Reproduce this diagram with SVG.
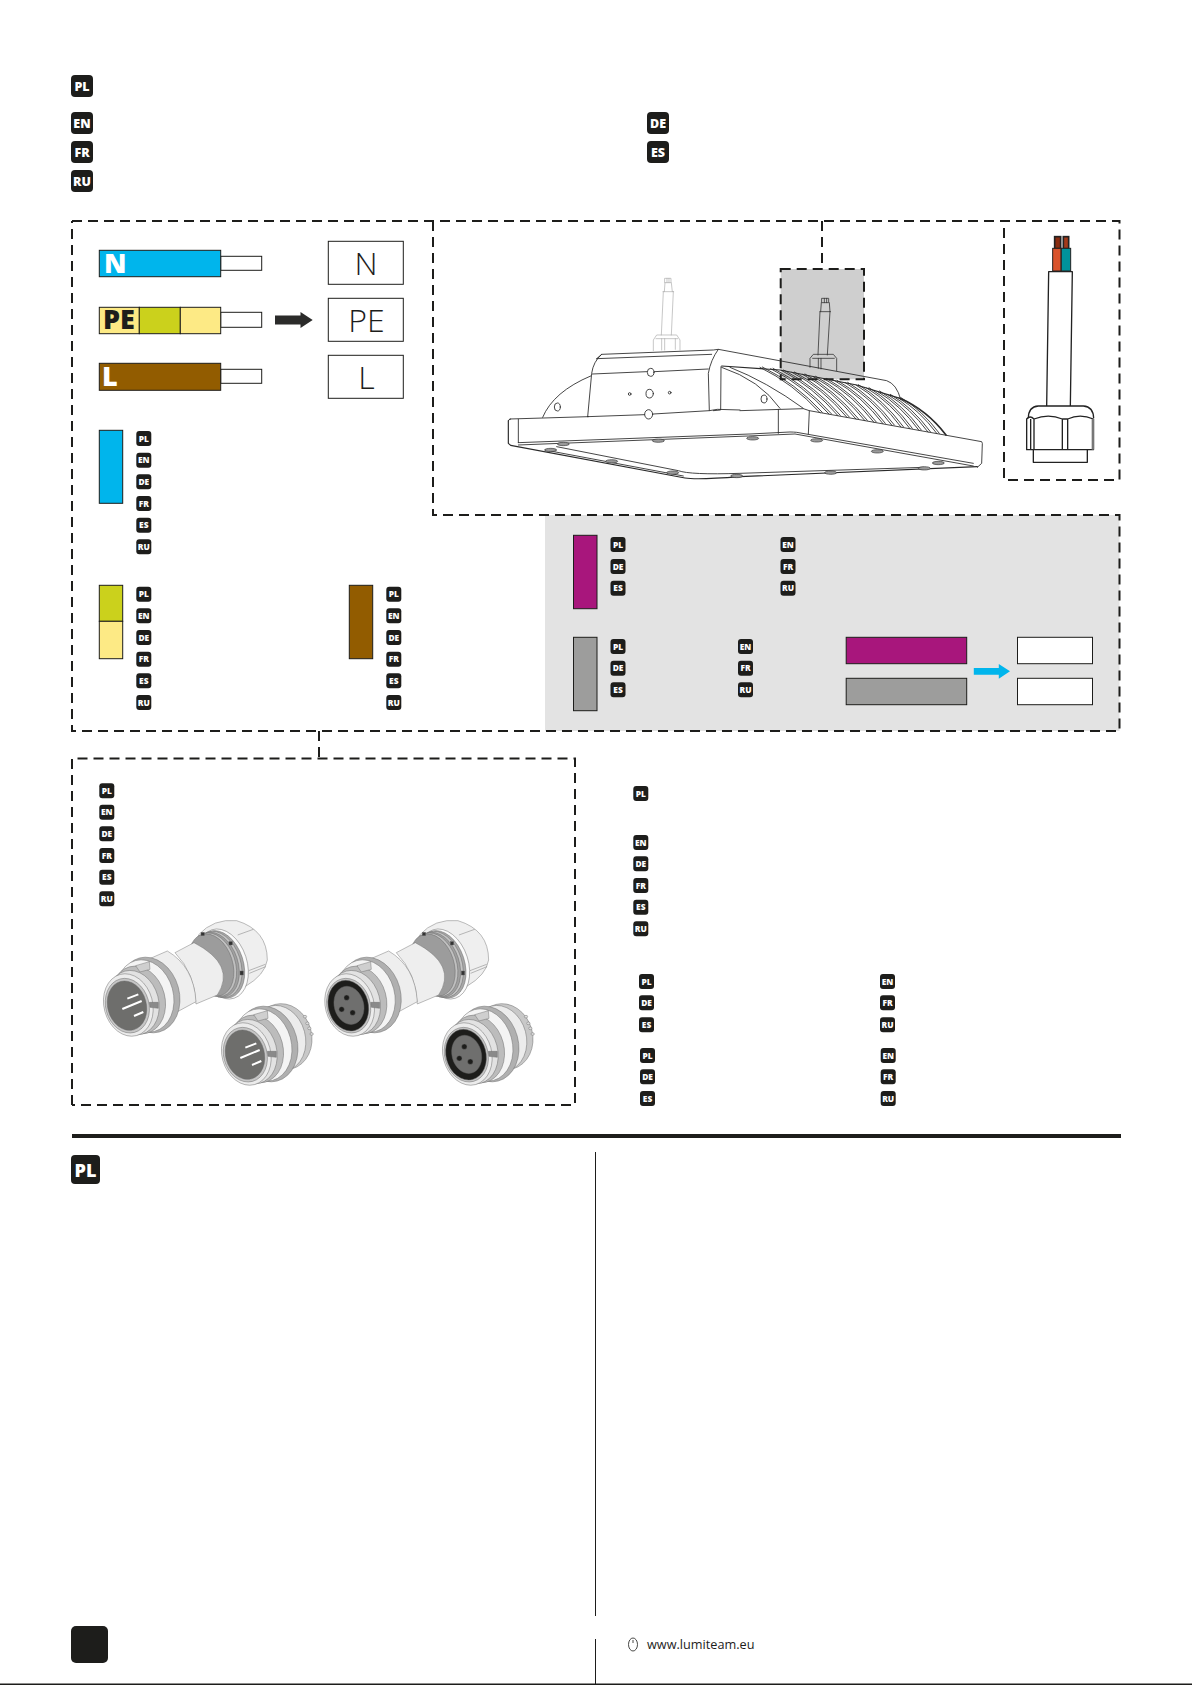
<svg xmlns="http://www.w3.org/2000/svg" xmlns:xlink="http://www.w3.org/1999/xlink" width="1192" height="1685" viewBox="0 0 1192 1685">
<style>
text{font-family:"Open Sans","Liberation Sans",sans-serif}
.bd rect{fill:#1d1d1b}
.bd text{fill:#fff;font-weight:800;text-anchor:middle}
.l text{font-size:12.500px}
.s text{font-size:8.400px}
.frame{fill:none;stroke:#1d1d1b;stroke-width:2;stroke-dasharray:10 6}
.sw{stroke:#1d1d1b;stroke-width:1}
.wl{stroke:#1d1d1b;stroke-width:1;fill:#fff}
.bl{font-size:27px;font-weight:800}
.tl{font-size:32px;font-weight:300;fill:#1d1d1b;text-anchor:middle}
.lamp{fill:none;stroke:#2a2a2a;stroke-width:2.600;stroke-linejoin:round;stroke-linecap:round}
.scr{fill:#9a9a9a;stroke:#333;stroke-width:2}
.cn *{stroke:#666;stroke-width:1.300}
.cab{fill:none;stroke:#222;stroke-width:4;stroke-linejoin:round}
</style>
<defs>
<g id="head">
<ellipse cx="178" cy="255" rx="90" ry="115" transform="rotate(-15 178 255)" fill="#b0b0b0"/>
<ellipse cx="165" cy="258" rx="85" ry="110" transform="rotate(-15 165 258)" fill="#f4f4f4"/>
<ellipse cx="145" cy="270" rx="80" ry="103" transform="rotate(-15 145 270)" fill="#bcbcbc"/>
<ellipse cx="130" cy="278" rx="76" ry="98" transform="rotate(-15 130 278)" fill="#e2e2e2"/>
<ellipse cx="115" cy="285" rx="73" ry="95" transform="rotate(-15 115 285)" fill="#ececec"/>
<ellipse cx="112" cy="287" rx="65" ry="83" transform="rotate(-15 112 287)" fill="#c6c6c6"/>
<path d="M137,167 L178,155 L180,178 L150,186 Z" fill="#cfcfcf"/>
<path d="M178,277 L205,277 L205,295 L180,292 Z" fill="#8a8a8a"/>
</g>
<g id="male">
<ellipse cx="111" cy="287" rx="58" ry="75" transform="rotate(-15 111 287)" fill="#6e6e6c"/>
<path d="M112,266 L145,253 M97,297 L155,273 M132,318 L160,306" style="stroke:#fff;stroke-width:6" fill="none"/>
</g>
<g id="female">
<ellipse cx="111" cy="287" rx="60" ry="77" transform="rotate(-15 111 287)" fill="#1d1d1b"/>
<ellipse cx="113" cy="286" rx="44" ry="58" transform="rotate(-15 113 286)" fill="#6f6f6e"/>
<circle cx="106" cy="263" r="8" fill="#1d1d1b"/>
<circle cx="91" cy="298" r="8" fill="#1d1d1b"/>
<circle cx="124" cy="308" r="8" fill="#1d1d1b"/>
</g>
<g id="tube">
<path d="M325,75 Q370,25 440,32 Q532,60 532,150 Q525,195 465,230 L420,262 L385,262 Z" fill="#efefef"/>
<path d="M443,75 L490,58 M478,190 L527,170 M476,182 L526,163" fill="none"/>
<ellipse cx="399" cy="162" rx="72" ry="108" transform="rotate(-18 399 162)" fill="#fbfbfb"/>
<ellipse cx="392" cy="163" rx="68" ry="104" transform="rotate(-18 392 163)" fill="#a8a8a8"/>
<ellipse cx="385" cy="163" rx="67" ry="102" transform="rotate(-18 385 163)" fill="#c4c4c4"/>
<ellipse cx="378" cy="164" rx="66" ry="100" transform="rotate(-18 378 164)" fill="#a0a0a0"/>
<ellipse cx="371" cy="164" rx="65" ry="98" transform="rotate(-18 371 164)" fill="#c0c0c0"/>
<ellipse cx="364" cy="165" rx="64" ry="96" transform="rotate(-18 364 165)" fill="#9c9c9c"/>
<rect x="333" y="67" width="10" height="10" fill="#333"/>
<rect x="417" y="95" width="10" height="10" fill="#333"/>
<rect x="450" y="183" width="10" height="12" fill="#333"/>
<path d="M255,128 L312,98 Q440,165 382,255 L318,282 Q315,190 255,128 Z" fill="#eeeeee"/>
<path d="M170,150 L232,123 Q312,170 318,275 L250,312 Z" fill="#eeeeee"/>
</g>
<g id="back">
<ellipse cx="226" cy="233" rx="85" ry="100" transform="rotate(-15 226 233)" fill="#c8c8c8"/>
<ellipse cx="212" cy="238" rx="80" ry="100" transform="rotate(-15 212 238)" fill="#ececec"/>
<ellipse cx="291" cy="173" rx="5" ry="4" fill="#ddd"/>
<ellipse cx="298" cy="193" rx="5" ry="4" fill="#ddd"/>
<ellipse cx="304" cy="208" rx="5" ry="4" fill="#ddd"/>
<ellipse cx="311" cy="225" rx="5" ry="4" fill="#ddd"/>
</g>
<g id="rib"><path d="M60,322 Q159,370 240,458 M92,326 Q188,374 267,462 M124,331 Q218,379 294,467 M156,337 Q247,384 321,472 M188,343 Q276,390 348,477 M220,350 Q305,396 375,482 M252,356 Q335,402 402,487 M284,362 Q364,407 429,491 M316,368 Q393,413 456,496 M348,375 Q422,419 483,501 M380,384 Q452,427 510,506 M412,394 Q481,435 537,511 M444,404 Q510,443 564,516 M476,414 Q539,451 591,521"/></g>
</defs>

<rect width="1192" height="1685" fill="#fff"/>
<rect id="grayPanel" x="545" y="515" width="574.500" height="216" fill="#e3e3e3"/>

<g id="connectors">
<path class="frame" d="M72,221 H1119.500 V480 H1004 V221 M433,221 V515 H1119.500 V731 H72 V221"/>
<path class="frame" d="M822,221 V269"/>
<path class="frame" d="M319,731 V758.500"/>
<path class="frame" d="M72,1105 V758.500 H575 V1105 H72"/>
<path d="M275,315.500 H300.500 V312 L312.700,320 L300.500,328 V324.500 H275 Z" fill="#2b2b2a"/>
<path d="M973.800,668 H998.800 V664 L1010,671.300 L998.800,678.700 V674.700 H973.800 Z" fill="#00b5ec"/>
</g>

<g id="lang-top" class="bd l">
<g id="lt1" transform="translate(71,75)"><rect width="22" height="22" rx="4"/><text x="11" y="15.500">PL</text></g>
<g id="lt2" transform="translate(71,112)"><rect width="22" height="22" rx="4"/><text x="11" y="15.500">EN</text></g>
<g id="lt3" transform="translate(71,141)"><rect width="22" height="22" rx="4"/><text x="11" y="15.500">FR</text></g>
<g id="lt4" transform="translate(71,170)"><rect width="22" height="22" rx="4"/><text x="11" y="15.500">RU</text></g>
<g id="lt5" transform="translate(647,112)"><rect width="22" height="22" rx="4"/><text x="11" y="15.500">DE</text></g>
<g id="lt6" transform="translate(647,141)"><rect width="22" height="22" rx="4"/><text x="11" y="15.500">ES</text></g>
</g>

<g id="wires">
<g id="wireN">
<rect class="wl" x="220.700" y="256.300" width="41" height="14"/>
<rect class="sw" x="99.300" y="250.300" width="121.400" height="26.400" fill="#00b5ec"/>
<text class="bl" x="104" y="272.700" fill="#fff">N</text>
</g>
<g id="wirePE">
<rect class="wl" x="220.700" y="312.300" width="41" height="15"/>
<rect class="sw" x="99.300" y="307.300" width="40" height="26.400" fill="#fdea85"/>
<rect class="sw" x="139.300" y="307.300" width="41" height="26.400" fill="#cbd11c"/>
<rect class="sw" x="180.300" y="307.300" width="40.400" height="26.400" fill="#fdea85"/>
<text class="bl" x="103" y="329.300" fill="#1d1d1b">PE</text>
</g>
<g id="wireL">
<rect class="wl" x="220.700" y="369.300" width="41" height="14"/>
<rect class="sw" x="99.300" y="363.300" width="121.400" height="27" fill="#925c00"/>
<text class="bl" x="102" y="386" fill="#fff">L</text>
</g>
<g id="termN"><rect class="wl" x="328.300" y="241.300" width="75" height="43"/><text class="tl" x="366" y="275">N</text></g>
<g id="termPE"><rect class="wl" x="328.300" y="298.300" width="75" height="43"/><text class="tl" x="366.500" y="332">PE</text></g>
<g id="termL"><rect class="wl" x="328.300" y="355.300" width="75" height="43"/><text class="tl" x="366.500" y="388.700">L</text></g>
</g>

<g id="swatches">
<rect class="sw" x="99.300" y="430.300" width="23.400" height="73" fill="#00b5ec"/>
<rect class="sw" x="99.300" y="585.300" width="23.400" height="36" fill="#cbd11c"/>
<rect class="sw" x="99.300" y="621.300" width="23.400" height="37.400" fill="#fdea85"/>
<rect class="sw" x="349.300" y="585.300" width="23.400" height="73.400" fill="#925c00"/>
<rect class="sw" x="573.500" y="535.300" width="23.500" height="73.400" fill="#a8167c"/>
<rect class="sw" x="573.500" y="637.300" width="23.500" height="73.400" fill="#9d9d9c"/>
<rect class="sw" x="846.200" y="637.300" width="120.500" height="26.400" fill="#a8167c"/>
<rect class="sw" x="846.200" y="678.300" width="120.500" height="26.400" fill="#9d9d9c"/>
<rect class="wl" x="1017.500" y="637.300" width="75" height="26.400"/>
<rect class="wl" x="1017.500" y="678.300" width="75" height="26.400"/>
</g>

<g id="lang-small" class="bd s">
<g transform="translate(136.300,431)"><rect width="15" height="15" rx="3"/><text x="7.500" y="10.700">PL</text></g>
<g transform="translate(136.300,452.700)"><rect width="15" height="15" rx="3"/><text x="7.500" y="10.700">EN</text></g>
<g transform="translate(136.300,474.300)"><rect width="15" height="15" rx="3"/><text x="7.500" y="10.700">DE</text></g>
<g transform="translate(136.300,496)"><rect width="15" height="15" rx="3"/><text x="7.500" y="10.700">FR</text></g>
<g transform="translate(136.300,517.700)"><rect width="15" height="15" rx="3"/><text x="7.500" y="10.700">ES</text></g>
<g transform="translate(136.300,539.300)"><rect width="15" height="15" rx="3"/><text x="7.500" y="10.700">RU</text></g>

<g transform="translate(136.300,586.700)"><rect width="15" height="15" rx="3"/><text x="7.500" y="10.700">PL</text></g>
<g transform="translate(136.300,608.300)"><rect width="15" height="15" rx="3"/><text x="7.500" y="10.700">EN</text></g>
<g transform="translate(136.300,630)"><rect width="15" height="15" rx="3"/><text x="7.500" y="10.700">DE</text></g>
<g transform="translate(136.300,651.700)"><rect width="15" height="15" rx="3"/><text x="7.500" y="10.700">FR</text></g>
<g transform="translate(136.300,673.300)"><rect width="15" height="15" rx="3"/><text x="7.500" y="10.700">ES</text></g>
<g transform="translate(136.300,695)"><rect width="15" height="15" rx="3"/><text x="7.500" y="10.700">RU</text></g>

<g transform="translate(386.300,586.700)"><rect width="15" height="15" rx="3"/><text x="7.500" y="10.700">PL</text></g>
<g transform="translate(386.300,608.300)"><rect width="15" height="15" rx="3"/><text x="7.500" y="10.700">EN</text></g>
<g transform="translate(386.300,630)"><rect width="15" height="15" rx="3"/><text x="7.500" y="10.700">DE</text></g>
<g transform="translate(386.300,651.700)"><rect width="15" height="15" rx="3"/><text x="7.500" y="10.700">FR</text></g>
<g transform="translate(386.300,673.300)"><rect width="15" height="15" rx="3"/><text x="7.500" y="10.700">ES</text></g>
<g transform="translate(386.300,695)"><rect width="15" height="15" rx="3"/><text x="7.500" y="10.700">RU</text></g>

<g transform="translate(610.500,537)"><rect width="15" height="15" rx="3"/><text x="7.500" y="10.700">PL</text></g>
<g transform="translate(610.500,559)"><rect width="15" height="15" rx="3"/><text x="7.500" y="10.700">DE</text></g>
<g transform="translate(610.500,580.700)"><rect width="15" height="15" rx="3"/><text x="7.500" y="10.700">ES</text></g>
<g transform="translate(780.500,537)"><rect width="15" height="15" rx="3"/><text x="7.500" y="10.700">EN</text></g>
<g transform="translate(780.500,559)"><rect width="15" height="15" rx="3"/><text x="7.500" y="10.700">FR</text></g>
<g transform="translate(780.500,580.700)"><rect width="15" height="15" rx="3"/><text x="7.500" y="10.700">RU</text></g>

<g transform="translate(610.500,639)"><rect width="15" height="15" rx="3"/><text x="7.500" y="10.700">PL</text></g>
<g transform="translate(610.500,660.700)"><rect width="15" height="15" rx="3"/><text x="7.500" y="10.700">DE</text></g>
<g transform="translate(610.500,682.300)"><rect width="15" height="15" rx="3"/><text x="7.500" y="10.700">ES</text></g>
<g transform="translate(738,639)"><rect width="15" height="15" rx="3"/><text x="7.500" y="10.700">EN</text></g>
<g transform="translate(738,660.700)"><rect width="15" height="15" rx="3"/><text x="7.500" y="10.700">FR</text></g>
<g transform="translate(738,682.300)"><rect width="15" height="15" rx="3"/><text x="7.500" y="10.700">RU</text></g>

<g transform="translate(99.300,783.300)"><rect width="15" height="15" rx="3"/><text x="7.500" y="10.700">PL</text></g>
<g transform="translate(99.300,804.700)"><rect width="15" height="15" rx="3"/><text x="7.500" y="10.700">EN</text></g>
<g transform="translate(99.300,826.300)"><rect width="15" height="15" rx="3"/><text x="7.500" y="10.700">DE</text></g>
<g transform="translate(99.300,848)"><rect width="15" height="15" rx="3"/><text x="7.500" y="10.700">FR</text></g>
<g transform="translate(99.300,869.700)"><rect width="15" height="15" rx="3"/><text x="7.500" y="10.700">ES</text></g>
<g transform="translate(99.300,891.300)"><rect width="15" height="15" rx="3"/><text x="7.500" y="10.700">RU</text></g>

<g transform="translate(633.300,786)"><rect width="15" height="15" rx="3"/><text x="7.500" y="10.700">PL</text></g>
<g transform="translate(633.300,835)"><rect width="15" height="15" rx="3"/><text x="7.500" y="10.700">EN</text></g>
<g transform="translate(633.300,856.300)"><rect width="15" height="15" rx="3"/><text x="7.500" y="10.700">DE</text></g>
<g transform="translate(633.300,878)"><rect width="15" height="15" rx="3"/><text x="7.500" y="10.700">FR</text></g>
<g transform="translate(633.300,899.700)"><rect width="15" height="15" rx="3"/><text x="7.500" y="10.700">ES</text></g>
<g transform="translate(633.300,921.300)"><rect width="15" height="15" rx="3"/><text x="7.500" y="10.700">RU</text></g>

<g transform="translate(639,974)"><rect width="15" height="15" rx="3"/><text x="7.500" y="10.700">PL</text></g>
<g transform="translate(639,995.300)"><rect width="15" height="15" rx="3"/><text x="7.500" y="10.700">DE</text></g>
<g transform="translate(639,1017.300)"><rect width="15" height="15" rx="3"/><text x="7.500" y="10.700">ES</text></g>
<g transform="translate(880,974)"><rect width="15" height="15" rx="3"/><text x="7.500" y="10.700">EN</text></g>
<g transform="translate(880,995.300)"><rect width="15" height="15" rx="3"/><text x="7.500" y="10.700">FR</text></g>
<g transform="translate(880,1017.300)"><rect width="15" height="15" rx="3"/><text x="7.500" y="10.700">RU</text></g>

<g transform="translate(640,1048)"><rect width="15" height="15" rx="3"/><text x="7.500" y="10.700">PL</text></g>
<g transform="translate(640,1069.300)"><rect width="15" height="15" rx="3"/><text x="7.500" y="10.700">DE</text></g>
<g transform="translate(640,1091)"><rect width="15" height="15" rx="3"/><text x="7.500" y="10.700">ES</text></g>
<g transform="translate(880.700,1048)"><rect width="15" height="15" rx="3"/><text x="7.500" y="10.700">EN</text></g>
<g transform="translate(880.700,1069.300)"><rect width="15" height="15" rx="3"/><text x="7.500" y="10.700">FR</text></g>
<g transform="translate(880.700,1091)"><rect width="15" height="15" rx="3"/><text x="7.500" y="10.700">RU</text></g>
</g>

<g id="lampBox"><rect x="780.700" y="269" width="83.300" height="110.300" fill="#cfcfcf"/>
<path class="frame" d="M780.700,269 H864 V379.300 H780.700 Z"/></g>

<g id="lamp" transform="translate(500,260) scale(0.33333)">
<g class="lamp" style="stroke:#aaa;stroke-width:2">
<path d="M495,55 H513 V68 H495 Z M501,55 V68 M507,55 V68 M495,68 L493,95 M514,68 L517,95 M489,95 H521 M490,95 L484,225 M520,95 L514,225"/>
<path d="M460,272 V240 L470,225 H530 L540,240 V270 M468,236 H533 M485,236 V270 M494,236 V270 M526,236 V268"/>
</g>
<g class="lamp" style="stroke:#333;stroke-width:2.400">
<path d="M966,115 H986 V128 H966 Z M973,115 V128 M980,115 V128 M964,128 L962,155 M988,128 L990,155 M960,155 H991 M960,155 L954,285 M990,155 L982,285"/>
<path d="M930,322 V295 L940,283 H1000 L1010,295 V332 M938,295 H1003 M955,295 V325 M963,295 V327"/>
</g>
<path class="lamp" d="M263,470 L275,340 Q280,305 305,283 L640,270 L655,268 L1160,362 Q1190,372 1202,418"/>
<path class="lamp" d="M290,296 L635,283 M305,283 L290,296 M628,452 L625,340 Q632,300 655,268"/>
<path class="lamp" d="M277,342 L440,335 M463,335 L625,327"/>
<path class="lamp" d="M263,470 L434,464 M460,462 L628,452 L652,448 L720,450 M640,452 L662,450 L663,320"/>
<path class="lamp" d="M128,472 Q160,395 272,348"/>
<ellipse class="lamp" cx="172" cy="441" rx="9" ry="12"/>
<ellipse class="lamp" cx="452" cy="337" rx="10" ry="12"/>
<ellipse class="lamp" cx="449" cy="401" rx="11" ry="13"/>
<ellipse class="lamp" cx="446" cy="463" rx="12" ry="14"/>
<circle class="lamp" cx="389" cy="402" r="4"/>
<circle class="lamp" cx="509" cy="398" r="4"/>
<g transform="translate(720,0)">
<path class="lamp" style="stroke-width:3.500" d="M-55,318 L120,330 L350,375 L480,415"/>
<path class="lamp" style="stroke-width:5" d="M480,415 Q560,450 618,525"/>
<path class="lamp" d="M-55,322 Q60,360 120,445 M-30,322 Q80,365 190,445"/>
<use href="#rib" class="lamp"/>
<use href="#rib" class="lamp" x="7" y="-1"/>
<ellipse class="lamp" cx="72" cy="417" rx="9" ry="12"/>
</g>
<path class="lamp" d="M30,477 L265,470 M720,452 L910,446 L928,452 L1445,545 L1447,550 L1445,610 L1432,622"/>
<path class="lamp" style="stroke-width:3.500" d="M25,482 L25,550 L32,556 L555,654 Q590,660 720,650 L1432,620"/>
<path class="lamp" d="M25,482 Q25,478 32,477 M55,478 V548 M835,448 V520 M928,452 L925,522"/>
<path class="lamp" d="M55,548 L750,522 L870,516 Q880,516 890,517 L1420,610 M55,555 L745,528 L885,522 L1420,618"/>
<path class="lamp" d="M135,570 L550,648 M170,560 L535,632 Q570,645 720,640 L1270,622"/>
<g id="screws">
<ellipse class="scr" cx="190" cy="552" rx="18" ry="5"/><ellipse class="scr" cx="475" cy="542" rx="18" ry="5"/><ellipse class="scr" cx="758" cy="535" rx="18" ry="5"/><ellipse class="scr" cx="950" cy="541" rx="18" ry="5"/><ellipse class="scr" cx="1132" cy="574" rx="18" ry="5"/><ellipse class="scr" cx="1315" cy="609" rx="18" ry="5"/><ellipse class="scr" cx="152" cy="570" rx="18" ry="5"/><ellipse class="scr" cx="335" cy="604" rx="18" ry="5"/><ellipse class="scr" cx="518" cy="638" rx="18" ry="5"/><ellipse class="scr" cx="710" cy="648" rx="18" ry="5"/><ellipse class="scr" cx="992" cy="638" rx="18" ry="5"/><ellipse class="scr" cx="1273" cy="625" rx="18" ry="5"/>
</g>
</g>

<g id="cable" transform="translate(1000,215) scale(0.33333)">
<rect x="164" y="65" width="18" height="36" fill="#8a2c10" stroke="#222" stroke-width="5"/>
<rect x="190" y="65" width="16" height="36" fill="#a33a1a" stroke="#222" stroke-width="5"/>
<rect x="158" y="100" width="25" height="68" fill="#d9532c" stroke="#222" stroke-width="3"/>
<rect x="184" y="100" width="28" height="68" fill="#00929a" stroke="#222" stroke-width="3"/>
<path class="cab" d="M140,573 L146,170 H217 L211,573"/>
<path class="cab" d="M85,610 Q85,575 115,573 H250 Q280,575 281,610"/>
<path class="cab" d="M80,612 Q90,600 102,612 Q145,595 187,612 L203,612 Q240,595 280,612 V704 H80 Z M92,612 V704 M102,612 V704 M187,612 V704 M203,612 V704"/>
<path d="M279,612 V704" stroke="#777" stroke-width="8" fill="none"/>
<path class="cab" d="M100,705 V742 H262 V705"/>
</g>

<g id="conn1" class="cn" transform="translate(90,910) scale(0.33333)"><use href="#tube"/><use href="#head"/><use href="#male"/></g>
<g id="conn2" class="cn" transform="translate(311.300,910) scale(0.33333)"><use href="#tube"/><use href="#head"/><use href="#female"/></g>
<g id="conn3" class="cn" transform="translate(208,959) scale(0.33333)"><use href="#back"/><use href="#head"/><use href="#male"/></g>
<g id="conn4" class="cn" transform="translate(429,959) scale(0.33333)"><use href="#back"/><use href="#head"/><use href="#female"/></g>

<g id="rules">
<rect x="72" y="1134" width="1049" height="4" fill="#1d1d1b"/>
<path d="M595.500,1152 V1616 M595.500,1639 V1685" stroke="#1d1d1b" stroke-width="1" fill="none"/>
<rect x="0" y="1683.500" width="1192" height="1.500" fill="#1d1d1b"/>
</g>

<g id="plLarge" class="bd"><rect x="71" y="1155" width="29" height="29" rx="4"/><text x="85.500" y="1176.700" font-size="18">PL</text></g>
<g id="pageNo"><rect x="71" y="1626" width="37" height="37" rx="5" fill="#1d1d1b"/></g>
<g id="web">
<ellipse cx="633" cy="1644.500" rx="4.500" ry="6.500" fill="none" stroke="#1d1d1b" stroke-width="0.800"/>
<path d="M633,1640 V1643" stroke="#1d1d1b" stroke-width="0.800"/>
<text x="647" y="1648.500" font-size="12.700" fill="#1d1d1b">www.lumiteam.eu</text>
</g>
</svg>
